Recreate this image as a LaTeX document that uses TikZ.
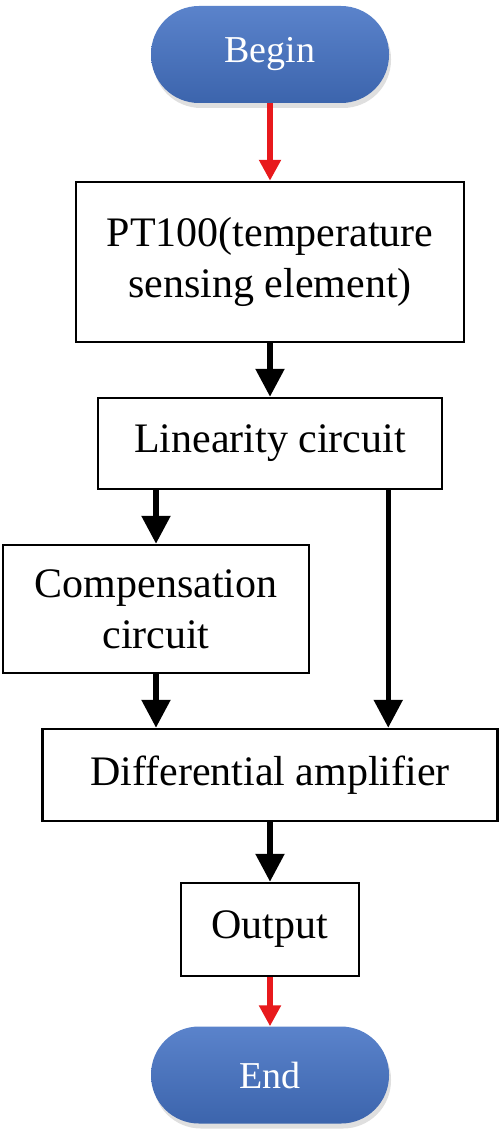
\documentclass[tikz,border=0pt]{standalone}
\usepackage{fontspec}
\setmainfont{Liberation Serif}
\usetikzlibrary{arrows.meta,shadows}
\definecolor{pillblue}{HTML}{4472C4}
\definecolor{arrred}{HTML}{E8191C}
\tikzset{
  box/.style={draw, line width=2.5pt, inner sep=0pt, align=center, font=\fontsize{42}{51}\selectfont},
  pill/.style={rounded corners=48pt, top color=pillblue!88!white, bottom color=pillblue!88!black, text=white, inner sep=0pt, minimum width=238pt, minimum height=97pt, font=\fontsize{38}{46}\selectfont, drop shadow={shadow xshift=2pt, shadow yshift=-5pt, opacity=.25}},
  blackarr/.style={line width=5.5pt, -{Triangle[length=28pt,width=28pt]}},
  redarr/.style={arrred, line width=6pt, -{Triangle[length=21pt,width=21pt]}},
}
\begin{document}
\begin{tikzpicture}[x=1pt, y=-1pt]
		\useasboundingbox (0, 0) rectangle (500, 1137);
		\node[pill] (begin) at (270, 54.5) {Begin};
		\node[box, minimum width=388pt, minimum height=160pt] (pt) at (270, 262) {PT100(temperature\\sensing element)};
		\node[box, minimum width=344pt, minimum height=91pt] (lin) at (270, 443.5) {Linearity circuit};
		\node[box, minimum width=306pt, minimum height=128pt] (comp) at (156, 609) {Compensation\\circuit};
		\node[box, minimum width=455pt, minimum height=92pt] (diff) at (270, 775) {Differential amplifier};
		\node[box, minimum width=178pt, minimum height=93pt] (out) at (270, 929.5) {Output};
		\node[pill] (end) at (270, 1075) {End};
		% connectors
		\draw[redarr] (begin) -- (pt);
		\draw[blackarr] (pt) -- (lin);
		\draw[blackarr] (comp.north |- lin.south) -- (comp.north);
		\draw[blackarr] ([xshift=-55pt]lin.south east) -- ([xshift=-55pt]lin.south east |- diff.north);
		\draw[blackarr] (comp.south) -- (comp.south |- diff.north);
		\draw[blackarr] (diff) -- (out);
		\draw[redarr] (out) -- (end);
\end{tikzpicture}
\end{document}
